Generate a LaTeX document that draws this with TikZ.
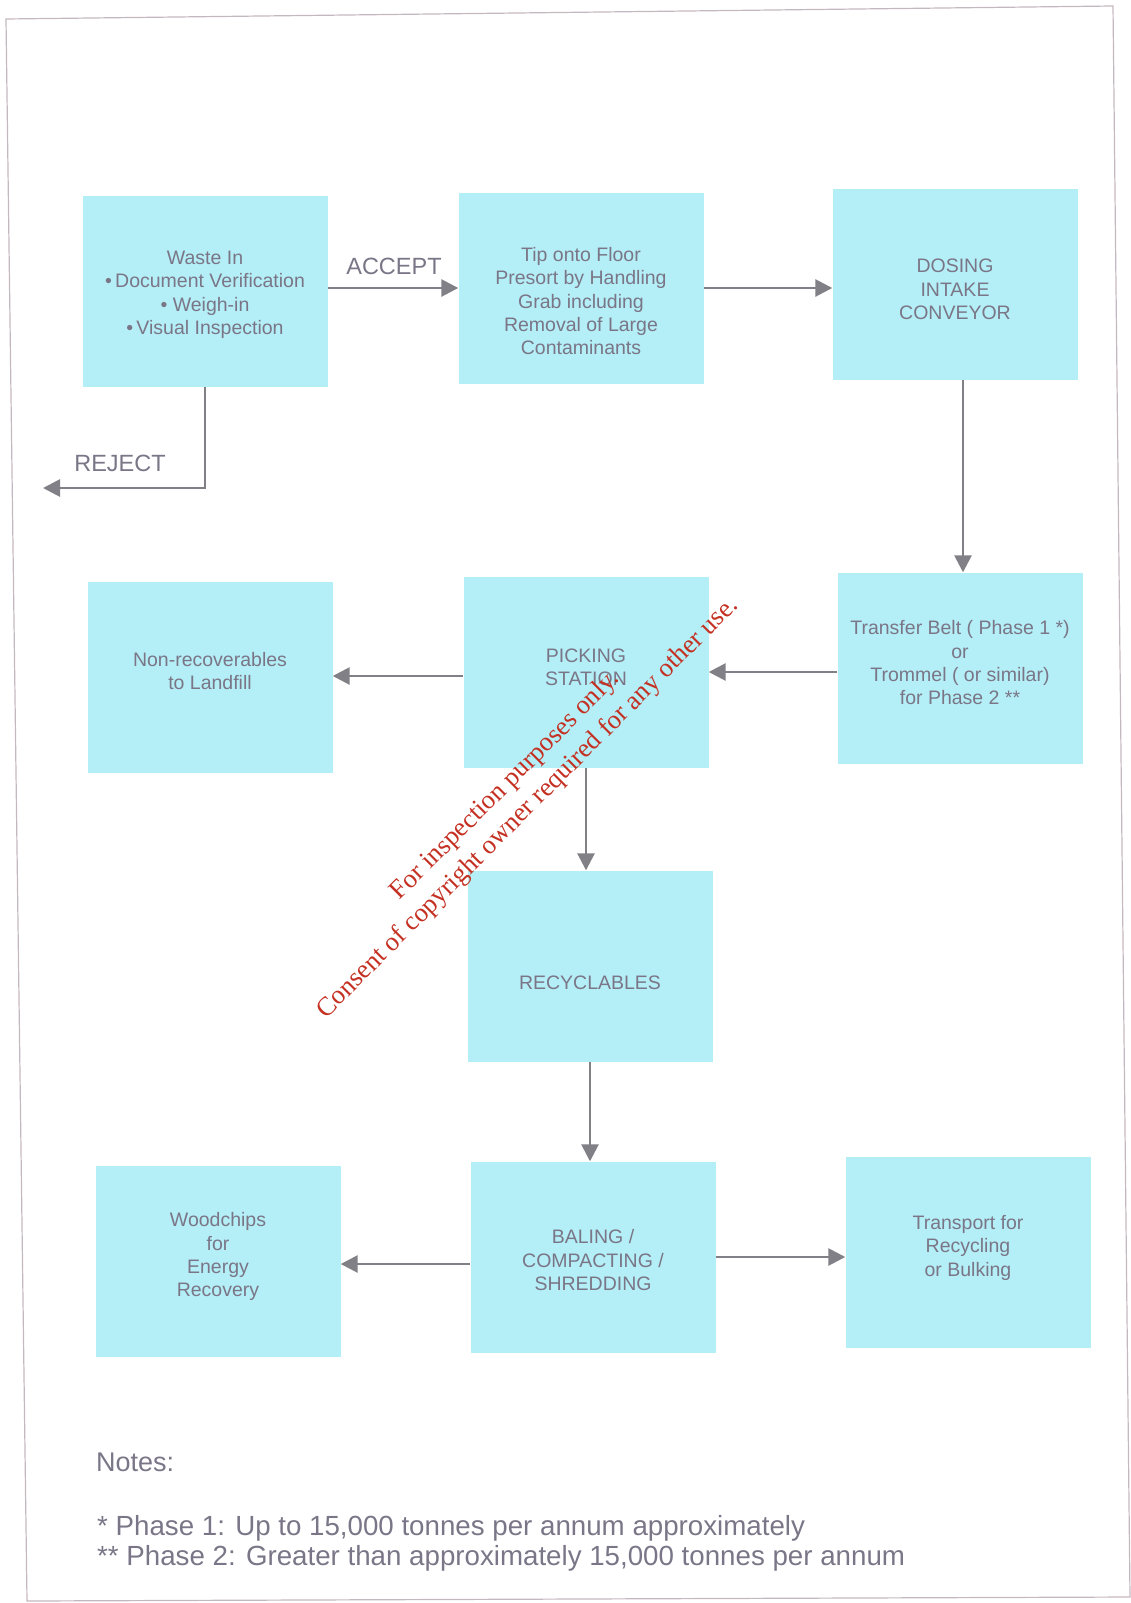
\documentclass[tikz,border=0pt]{standalone}
\usepackage{fontspec}
\setmainfont{Liberation Sans}
\newfontfamily\stampfont{Liberation Serif}
\usetikzlibrary{arrows.meta}

\definecolor{boxcyan}{RGB}{180,238,246}
\definecolor{textgrey}{RGB}{122,118,135}
\definecolor{arrowgrey}{RGB}{128,128,134}
\definecolor{stampred}{RGB}{196,48,34}
\definecolor{framegrey}{RGB}{196,184,192}

\tikzset{
  stage/.style={fill=boxcyan, text=textgrey, minimum width=245pt, minimum height=191pt,
    inner sep=0pt, align=center, font=\fontsize{19.5}{23.3}\selectfont},
  flow/.style={draw=arrowgrey, line width=2.7pt, -{Triangle[length=17pt,width=17pt]}},
  tag/.style={text=textgrey, inner sep=0pt, font=\fontsize{23.5}{27}\selectfont},
  note/.style={text=textgrey, inner sep=0pt, anchor=base west, font=\fontsize{27.7}{30}\selectfont},
}

\begin{document}
\begin{tikzpicture}[x=1pt,y=-1pt]
  \useasboundingbox (0,0) rectangle (1130,1603);
  \draw[framegrey, line width=1.2pt] (6,19) -- (1113,6) -- (1130,1597) -- (27,1601) -- cycle;

  \node[stage] (waste) at (205,291) {\mbox{}\\[-2pt]Waste In\\\textbullet\,Document Verification\\\textbullet\ Weigh-in\\\textbullet\,Visual Inspection};
  \node[stage] (tip) at (581,288) {\mbox{}\\[17pt]Tip onto Floor\\Presort by Handling\\Grab including\\Removal of Large\\Contaminants};
  \node[stage] (dosing) at (955,284) {\mbox{}\\[1pt]DOSING\\INTAKE\\CONVEYOR};
  \node[stage] (transfer) at (960,668) {Transfer Belt ( Phase 1 *)\\or\\Trommel ( or similar)\\for Phase 2 **\\[-13pt]\mbox{}};
  \node[stage] (picking) at (586,672) {PICKING\\STATION\\[-13pt]\mbox{}};
  \node[stage] (landfill) at (210,677) {Non-recoverables\\to Landfill\\[-11pt]\mbox{}};
  \node[stage] (recyclables) at (590,966) {\mbox{}\\[24pt]RECYCLABLES};
  \node[stage] (baling) at (593,1257) {\mbox{}\\[-3pt]BALING /\\COMPACTING /\\SHREDDING};
  \node[stage] (woodchips) at (218,1261) {Woodchips\\for\\Energy\\Recovery\\[-11pt]\mbox{}};
  \node[stage] (transport) at (968,1252) {Transport for\\Recycling\\or Bulking\\[-11pt]\mbox{}};

  \node[tag] (accept) at (394,266) {ACCEPT};
  \node[tag] (reject) at (120,463) {REJECT};
  \coordinate (out) at (43,488);

  \draw[flow] ([yshift=3pt]waste.east) -- ([yshift=3pt]waste.east -| tip.west);
  \draw[flow] (tip.east) -- (tip.east -| dosing.west);
  \draw[flow] (waste.south) |- (out);
  \draw[flow] ([xshift=8pt]dosing.south) -- ([xshift=8pt]dosing.south |- transfer.north);
  \draw[flow] ([yshift=-4pt]transfer.west) -- ([yshift=-4pt]transfer.west -| picking.east);
  \draw[flow] ([yshift=-4pt]picking.west) -- ([yshift=-4pt]picking.west -| landfill.east);
  \draw[flow] (picking.south) -- (picking.south |- recyclables.north);
  \draw[flow] (recyclables.south) -- (recyclables.south |- baling.north);
  \draw[flow] ([yshift=-7pt]baling.west) -- ([yshift=-7pt]baling.west -| woodchips.east);
  \draw[flow] (baling.east) -- (baling.east -| transport.west);

  \node[text=stampred, rotate=45, align=center, inner sep=0pt,
    font=\stampfont\fontsize{26.5}{32}\selectfont] (stamp) at (517,797)
    {For inspection purposes only.\\Consent of copyright owner required for any other use.};

  \node[note, font=\fontsize{27}{30}\selectfont] (notes) at (96,1471) {Notes:};
  \node[note] (phaseone) at (97,1535) {* Phase 1: Up to 15,000 tonnes per annum approximately};
  \node[note] (phasetwo) at (97,1565) {** Phase 2: Greater than approximately 15,000 tonnes per annum};
\end{tikzpicture}
\end{document}
